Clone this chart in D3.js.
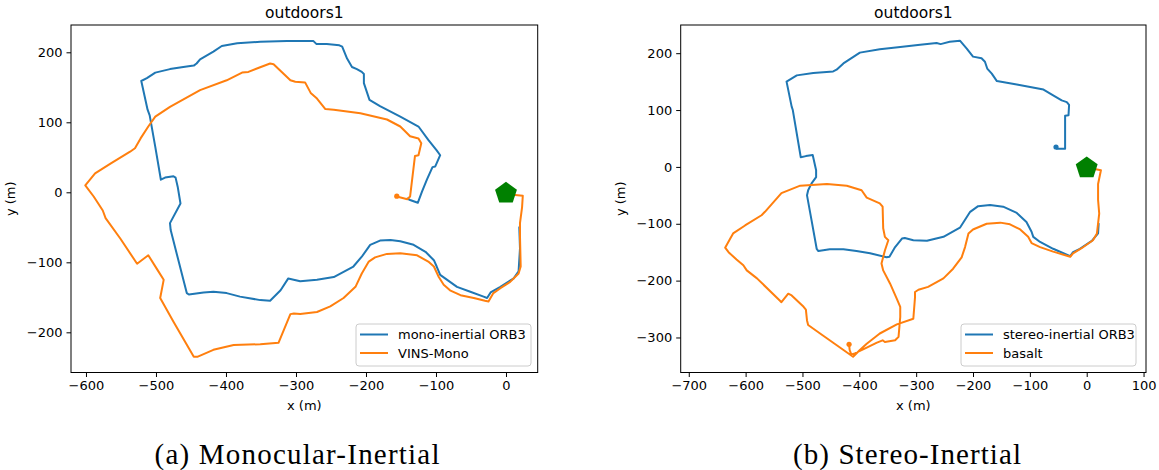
<!DOCTYPE html>
<html>
<head>
<meta charset="utf-8">
<script src="https://cdn.jsdelivr.net/npm/d3@7"></script>
<style>
  body { margin: 0; background: #fff; }
  svg { display: block; font-family: "DejaVu Sans", sans-serif; }
</style>
</head>
<body>
<svg width="1159" height="470"></svg>
<script>
// trajectories, [x (m), y (m)]
const monoOrb = [[19,-50],[20,-80],[18,-113],[11,-123],[-8,-135],[-22,-143],[-27,-151],[-32,-149],[-51,-142],[-70,-135],[-84,-125],[-94,-118],[-99,-106],[-103,-97],[-115,-85],[-132,-75],[-151,-70],[-165,-68],[-180,-69],[-194,-75],[-206,-92],[-218,-106],[-246,-121],[-270,-125],[-294,-127],[-311,-123],[-322,-140],[-337,-155],[-351,-154],[-380,-149],[-399,-144],[-418,-142],[-432,-143],[-453,-146],[-456,-144],[-479,-54],[-480,-44],[-465,-16],[-469,8],[-472,21],[-475,23],[-487,21],[-493,18],[-501,65],[-509,110],[-512,118],[-521,159],[-513,163],[-501,171],[-480,176],[-461,179],[-446,181],[-442,184],[-437,190],[-418,201],[-406,209],[-384,213],[-351,215],[-313,216],[-275,216],[-271,212],[-256,212],[-238,210],[-234,208],[-227,191],[-220,179],[-213,176],[-206,172],[-203,169],[-203,156],[-195,132],[-180,123],[-151,108],[-125,94],[-111,75],[-99,60],[-94,53],[-101,37],[-105,36],[-113,18],[-120,1],[-126,-15],[-137,-11],[-141,-9]];
const vinsMono = [[0,-3],[13,-4],[24,-5],[23,-21],[20,-44],[20,-63],[21,-106],[18,-116],[6,-128],[-8,-137],[-18,-144],[-25,-156],[-30,-155],[-46,-151],[-65,-147],[-80,-140],[-89,-132],[-96,-121],[-103,-106],[-111,-99],[-127,-90],[-151,-87],[-170,-88],[-187,-93],[-196,-99],[-206,-116],[-215,-135],[-232,-151],[-251,-163],[-270,-171],[-294,-174],[-303,-173],[-308,-174],[-325,-215],[-351,-217],[-389,-218],[-418,-225],[-441,-235],[-446,-235],[-475,-185],[-494,-151],[-489,-125],[-499,-109],[-511,-90],[-527,-102],[-551,-66],[-572,-37],[-576,-26],[-589,-6],[-601,10],[-587,27],[-565,41],[-537,58],[-530,63],[-522,77],[-511,94],[-501,108],[-480,122],[-437,146],[-399,160],[-377,171],[-368,172],[-353,178],[-337,184],[-332,183],[-308,160],[-301,158],[-287,157],[-279,142],[-270,134],[-258,119],[-246,118],[-208,113],[-170,104],[-151,94],[-137,80],[-125,77],[-121,70],[-125,53],[-130,52],[-137,-6],[-141,-10],[-156,-6]];
const stereoOrb = [[21,-100],[20,-117],[9,-130],[-12,-144],[-24,-150],[-29,-157],[-59,-144],[-82,-132],[-94,-123],[-97,-114],[-106,-97],[-123,-81],[-147,-70],[-170,-67],[-191,-69],[-205,-79],[-223,-107],[-252,-123],[-281,-130],[-305,-129],[-320,-125],[-325,-126],[-337,-141],[-347,-158],[-352,-159],[-381,-152],[-405,-148],[-428,-145],[-452,-145],[-472,-148],[-475,-144],[-484,-94],[-492,-50],[-490,-41],[-484,-29],[-476,-18],[-476,-6],[-482,21],[-494,19],[-503,17],[-517,100],[-519,106],[-528,150],[-510,161],[-481,165],[-446,168],[-440,171],[-428,182],[-399,201],[-364,207],[-328,211],[-293,215],[-264,218],[-257,216],[-241,220],[-223,222],[-211,208],[-200,194],[-185,191],[-179,185],[-175,173],[-167,164],[-158,151],[-123,145],[-76,136],[-59,126],[-44,117],[-35,114],[-31,109],[-32,91],[-38,90],[-38,32],[-53,32],[-54,35]];
const basalt = [[0,-4],[16,-4],[25,-6],[20,-30],[20,-58],[22,-82],[18,-117],[11,-129],[-9,-143],[-24,-152],[-29,-158],[-59,-149],[-82,-141],[-97,-134],[-103,-123],[-117,-110],[-135,-101],[-152,-98],[-176,-100],[-200,-110],[-208,-117],[-214,-141],[-220,-159],[-235,-179],[-252,-196],[-279,-211],[-296,-216],[-302,-220],[-302,-229],[-305,-267],[-334,-277],[-364,-293],[-387,-311],[-399,-322],[-411,-334],[-469,-293],[-490,-278],[-492,-270],[-494,-251],[-498,-246],[-519,-226],[-525,-223],[-537,-238],[-540,-235],[-580,-196],[-598,-182],[-604,-173],[-616,-163],[-630,-150],[-636,-142],[-627,-126],[-622,-117],[-601,-103],[-572,-85],[-566,-79],[-537,-46],[-504,-33],[-457,-30],[-422,-33],[-396,-41],[-387,-54],[-364,-64],[-359,-70],[-358,-108],[-355,-123],[-349,-129],[-355,-147],[-361,-170],[-358,-182],[-346,-205],[-334,-232],[-328,-246],[-328,-264],[-331,-299],[-337,-305],[-355,-308],[-359,-305],[-369,-309],[-387,-318],[-408,-328],[-414,-330],[-417,-322],[-418,-312]];

const xTicksA = [-600,-500,-400,-300,-200,-100,0];
const yTicksA = [-200,-100,0,100,200];
const xTicksB = [-700,-600,-500,-400,-300,-200,-100,0,100];
const yTicksB = [-300,-200,-100,0,100,200];

const blue = "#1f77b4", orange = "#ff7f0e";
const svg = d3.select("svg");

function drawPanel(p) {
  const x = d3.scaleLinear().domain(p.xlim).range([p.left, p.right]);
  const y = d3.scaleLinear().domain(p.ylim).range([p.bottom, p.top]);
  const g = svg.append("g");
  const fmt = d3.format("d");

  g.append("g")
    .attr("transform", `translate(0,${p.bottom})`)
    .call(d3.axisBottom(x).tickValues(p.xTicks).tickFormat(fmt).tickSizeOuter(0).tickSize(4.5).tickPadding(4))
    .call(a => a.select(".domain").remove())
    .call(a => a.selectAll("text").attr("font-size", 13).attr("fill", "#000").attr("font-family", "DejaVu Sans"));
  g.append("g")
    .attr("transform", `translate(${p.left},0)`)
    .call(d3.axisLeft(y).tickValues(p.yTicks).tickFormat(fmt).tickSizeOuter(0).tickSize(4.5).tickPadding(4))
    .call(a => a.select(".domain").remove())
    .call(a => a.selectAll("text").attr("font-size", 13).attr("fill", "#000").attr("font-family", "DejaVu Sans"));

  const line = d3.line().x(d => x(d[0])).y(d => y(d[1]));
  p.series.forEach(s => {
    g.append("path").datum(s.data)
      .attr("d", line).attr("fill", "none")
      .attr("stroke", s.color).attr("stroke-width", 2)
      .attr("stroke-linejoin", "round").attr("stroke-linecap", "round");
  });
  // little dots at the end of the tracks
  p.dots.forEach(dd => {
    g.append("circle").attr("cx", x(dd.at[0])).attr("cy", y(dd.at[1])).attr("r", 2.6).attr("fill", dd.color);
  });

  // start marker (pentagon at origin)
  const cx = x(0), cy = y(0), r = 11.5;
  const pts = d3.range(5).map(i => {
    const a = -Math.PI / 2 + i * 2 * Math.PI / 5;
    return [cx + r * Math.cos(a), cy + r * Math.sin(a) + 1];
  });
  g.append("polygon").attr("points", pts.map(q => q.join(",")).join(" ")).attr("fill", "#008000");

  g.append("rect")
    .attr("x", p.left).attr("y", p.top)
    .attr("width", p.right - p.left).attr("height", p.bottom - p.top)
    .attr("fill", "none").attr("stroke", "#000").attr("stroke-width", 1);

  g.append("text").attr("x", (p.left + p.right) / 2).attr("y", 18)
    .attr("text-anchor", "middle").attr("font-size", 15.5).text(p.title);
  g.append("text").attr("x", (p.left + p.right) / 2).attr("y", 410)
    .attr("text-anchor", "middle").attr("font-size", 13).text("x (m)");
  g.append("text").attr("transform", `translate(${p.left - 56},${(p.top + p.bottom) / 2}) rotate(-90)`)
    .attr("text-anchor", "middle").attr("font-size", 13).text("y (m)");

  // legend
  const lg = g.append("g").attr("transform", `translate(${p.legendX},324)`);
  lg.append("rect").attr("width", 175).attr("height", 42).attr("rx", 3)
    .attr("fill", "#fff").attr("fill-opacity", 0.8).attr("stroke", "#cccccc");
  p.series.forEach((s, i) => {
    lg.append("line").attr("x1", 4).attr("x2", 32).attr("y1", 10.5 + i * 18.5).attr("y2", 10.5 + i * 18.5)
      .attr("stroke", s.color).attr("stroke-width", 2);
    lg.append("text").attr("x", 42).attr("y", 15 + i * 18.5).attr("font-size", 13).text(s.name);
  });

  svg.append("text").attr("x", p.capX).attr("y", 464)
    .attr("text-anchor", "middle").attr("font-family", "Liberation Serif, serif")
    .attr("font-size", 29).attr("textLength", p.capW).attr("lengthAdjust", "spacing").text(p.caption);
}

drawPanel({
  title: "outdoors1", caption: "(a) Monocular-Inertial", capX: 297, capW: 285,
  left: 71, right: 537.7, top: 25, bottom: 372.5,
  xlim: [-621.4, 45.3], ylim: [-257.4, 239],
  xTicks: xTicksA, yTicks: yTicksA, legendX: 356,
  series: [{name: "mono-inertial ORB3", color: blue, data: monoOrb},
           {name: "VINS-Mono", color: orange, data: vinsMono}],
  dots: [{at: [-156, -5.5], color: orange}]
});
drawPanel({
  title: "outdoors1", caption: "(b) Stereo-Inertial", capX: 907, capW: 228,
  left: 680.7, right: 1146, top: 25, bottom: 372.5,
  xlim: [-714.2, 104.3], ylim: [-361.6, 249.6],
  xTicks: xTicksB, yTicks: yTicksB, legendX: 961,
  series: [{name: "stereo-inertial ORB3", color: blue, data: stereoOrb},
           {name: "basalt", color: orange, data: basalt}],
  dots: [{at: [-418, -312], color: orange}, {at: [-54, 35], color: blue}]
});
</script>
</body>
</html>
